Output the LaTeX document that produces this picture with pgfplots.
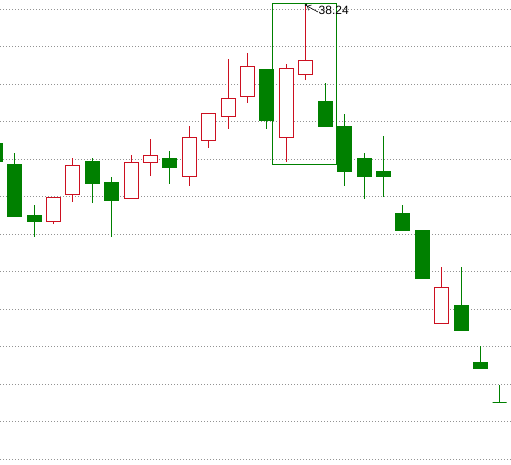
\documentclass[border=0pt]{standalone}
\usepackage{pgfplots}
\pgfplotsset{compat=1.18}
\usetikzlibrary{arrows.meta}
\usepackage{fontspec}
\setmainfont{Liberation Sans}
\definecolor{candlered}{RGB}{204,16,32}
\definecolor{candlegreen}{RGB}{0,128,0}

% style prefix, x, open, high, low, close
\newcommand{\candle}[6]{%
  \pgfmathsetmacro\xl{#2-7}\pgfmathsetmacro\xr{#2+7}%
  \edef\tmp{\noexpand\addplot[#1wick] coordinates {(#2,#5) (#2,#4)};
    \noexpand\addplot[#1body] coordinates {(\xl,#3) (\xr,#3) (\xr,#6) (\xl,#6)} -- cycle;}%
  \tmp}

\begin{document}
\begin{tikzpicture}
\begin{axis}[
  at={(0,0)}, anchor=south west,
  scale only axis, width=511pt, height=465pt,
  xmin=0, xmax=511, ymin=32.12, ymax=38.32,
  axis line style={draw=none}, tick style={draw=none},
  xtick=\empty, ytick={32.2,32.7,...,38.3}, yticklabels={},
  ymajorgrids, grid style={gray!85, line width=0.8pt, dash pattern=on 0.8pt off 2.2pt},
  upwick/.style={candlered, line width=1pt, solid, mark=none},
  upbody/.style={draw=candlered, fill=white, line width=1pt, solid, mark=none},
  dnwick/.style={candlegreen, line width=1pt, solid, mark=none},
  dnbody/.style={draw=candlegreen, fill=candlegreen, line width=1pt, solid, mark=none},
]
\candle{dn}{-5}{36.400}{36.400}{36.173}{36.173}
\candle{dn}{14.5}{36.120}{36.280}{35.427}{35.427}
\candle{dn}{34}{35.453}{35.587}{35.160}{35.360}
\candle{up}{53.5}{35.373}{35.693}{35.333}{35.693}
\candle{up}{72.5}{35.720}{36.213}{35.627}{36.107}
\candle{dn}{92}{36.160}{36.213}{35.613}{35.867}
\candle{dn}{111.5}{35.880}{35.960}{35.160}{35.653}
\candle{up}{131}{35.667}{36.253}{35.667}{36.147}
\candle{up}{150}{36.147}{36.467}{35.973}{36.253}
\candle{dn}{169.5}{36.213}{36.307}{35.867}{36.093}
\candle{up}{189}{35.960}{36.640}{35.840}{36.480}
\candle{up}{208}{36.440}{36.800}{36.347}{36.800}
\candle{up}{228}{36.773}{37.533}{36.600}{37.013}
\candle{up}{247}{37.027}{37.613}{36.947}{37.427}
\candle{dn}{266.5}{37.387}{37.387}{36.600}{36.707}
\candle{up}{286.5}{36.480}{37.467}{36.160}{37.400}
\candle{up}{305.5}{37.333}{38.240}{37.253}{37.507}
\candle{dn}{325.5}{36.960}{37.213}{36.627}{36.627}
\candle{dn}{344.5}{36.627}{36.800}{35.840}{36.027}
\candle{dn}{364.5}{36.200}{36.280}{35.667}{35.960}
\candle{dn}{383.5}{36.027}{36.507}{35.693}{35.973}
\candle{dn}{402.5}{35.467}{35.587}{35.240}{35.240}
\candle{dn}{422.5}{35.240}{35.240}{34.613}{34.613}
\candle{up}{441.5}{34.013}{34.760}{34.013}{34.493}
\candle{dn}{461.5}{34.253}{34.760}{33.907}{33.907}
\candle{dn}{480.5}{33.493}{33.707}{33.400}{33.400}
\candle{dn}{499.5}{32.947}{33.187}{32.947}{32.947}
% selection box
\addplot[candlegreen, line width=1pt, solid, mark=none] coordinates {(272,38.267) (336,38.267) (336,36.12) (272,36.12)} -- cycle;
% high marker
\draw[black, line width=0.6pt, -{Straight Barb[length=3pt]}] (axis cs:318,38.16) -- (axis cs:307,38.24);
\fill[black] (axis cs:306,38.253) circle (1.3pt);
\node[anchor=west, inner sep=0pt, font=\fontsize{12}{13}\selectfont] at (axis cs:318.5,38.187) {38.24};
\end{axis}
\pgfresetboundingbox
\useasboundingbox (0,0) rectangle (511pt,465pt);
\end{tikzpicture}
\end{document}
